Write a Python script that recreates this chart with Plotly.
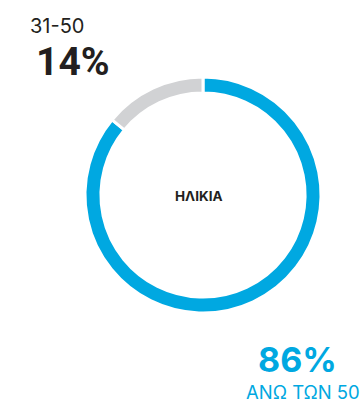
import plotly.graph_objects as go

# Age breakdown
categories = ["ΑΝΩ ΤΩΝ 50", "31-50"]
shares = [86, 14]
colors = ["#00A8E1", "#D1D2D4"]
center_title = "ΗΛΙΚΙΑ"

W, H = 363, 404


def px(x, y):
    """Convert pixel coordinates (from top-left) to paper coordinates."""
    return x / W, 1 - y / H


fig = go.Figure(
    go.Pie(
        labels=categories,
        values=shares,
        hole=0.865,
        sort=False,
        direction="clockwise",
        rotation=0,
        marker=dict(colors=colors, line=dict(color="white", width=3)),
        textinfo="none",
        hoverinfo="label+percent",
        domain=dict(x=[85 / W, 321 / W], y=[1 - 313 / H, 1 - 77 / H]),
        showlegend=False,
    )
)

dark = "#231F20"
blue = colors[0]
font_family = "Inter, Roboto, sans-serif"

annotations = []


def add_text(text, x, y, size, color, bold=False, xanchor="left", family=font_family):
    xp, yp = px(x, y)
    annotations.append(
        dict(
            text=f"<b>{text}</b>" if bold else text,
            x=xp,
            y=yp,
            xref="paper",
            yref="paper",
            xanchor=xanchor,
            yanchor="middle",
            showarrow=False,
            borderpad=0,
            font=dict(family=family, size=size, color=color),
        )
    )


add_text(categories[1], 29, 26, 20, dark)
add_text(f"{shares[1]}%", 35, 62, 39, dark, bold=True, family="Roboto, sans-serif")
add_text(center_title, 199, 196, 13.5, dark, bold=True, xanchor="center")
add_text(f"{shares[0]}%", 338, 359, 34, blue, bold=True, xanchor="right")
add_text(categories[0], 361, 392, 18.5, blue, xanchor="right")

fig.update_layout(
    width=W,
    height=H,
    margin=dict(l=0, r=0, t=0, b=0),
    paper_bgcolor="white",
    plot_bgcolor="white",
    annotations=annotations,
)

fig.write_html("out.html", config={"displayModeBar": False})
